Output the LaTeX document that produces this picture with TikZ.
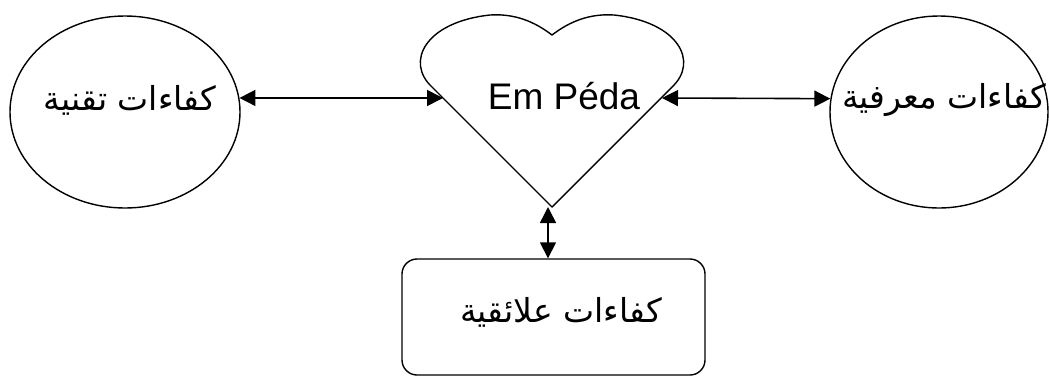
\documentclass[tikz,border=0pt]{standalone}
\usepackage{fontspec}
\setmainfont{Liberation Sans}
\newfontfamily\arabicfont[Script=Arabic]{DejaVu Sans}
\TeXXeTstate=1
\usetikzlibrary{shapes.geometric,arrows.meta}
\begin{document}
\begin{tikzpicture}[x=1pt,y=-1pt,
  outline/.style={draw=black,line width=1.4pt},
  oval/.style={outline,ellipse,inner sep=0pt},
  arlabel/.style={font=\arabicfont\fontsize{33}{37}\selectfont,inner sep=0pt},
  link/.style={line width=1.6pt,
    {Triangle[length=16pt,width=16pt]}-{Triangle[length=16pt,width=16pt]}}]
\useasboundingbox (0,0) rectangle (1049,376);
\fill[white] (0,0) rectangle (1049,376);

% surrounding competences
\node[oval,minimum width=230pt,minimum height=192pt] (tech) at (125,112) {};
\node[oval,minimum width=218pt,minimum height=192pt] (know) at (939,112) {};
\node[outline,rounded corners=15pt,minimum width=303pt,minimum height=116pt,inner sep=0pt] (rel) at (553.5,317) {};

\node[arlabel] (techtxt) at (130,100) {\beginR كفاءات تقنية\endR};
\node[arlabel] (knowtxt) at (944,100) {\beginR كفاءات معرفية\endR};
\node[arlabel] (reltxt) at (561,312) {\beginR كفاءات علائقية\endR};

% central heart
\draw[outline,line join=round] (552,207) -- (432,87)
  .. controls (405,62) and (425,22) .. (490,15)
  .. controls (520,13) and (540,26) .. (552,35)
  .. controls (564,26) and (584,13) .. (614,15)
  .. controls (679,22) and (699,62) .. (672,87) -- cycle;
\node[font=\fontsize{37}{41}\selectfont,inner sep=0pt] (ped) at (564,96) {Em Péda};
\coordinate (heartL) at (443,98);
\coordinate (heartR) at (662,98);
\coordinate (heartTip) at (548,207);

% links
\draw[link] (tech.7) -- (heartL);
\draw[link] (heartR) -- (know.173);
\draw[link] (heartTip) -- (heartTip |- rel.north);
\end{tikzpicture}
\end{document}
